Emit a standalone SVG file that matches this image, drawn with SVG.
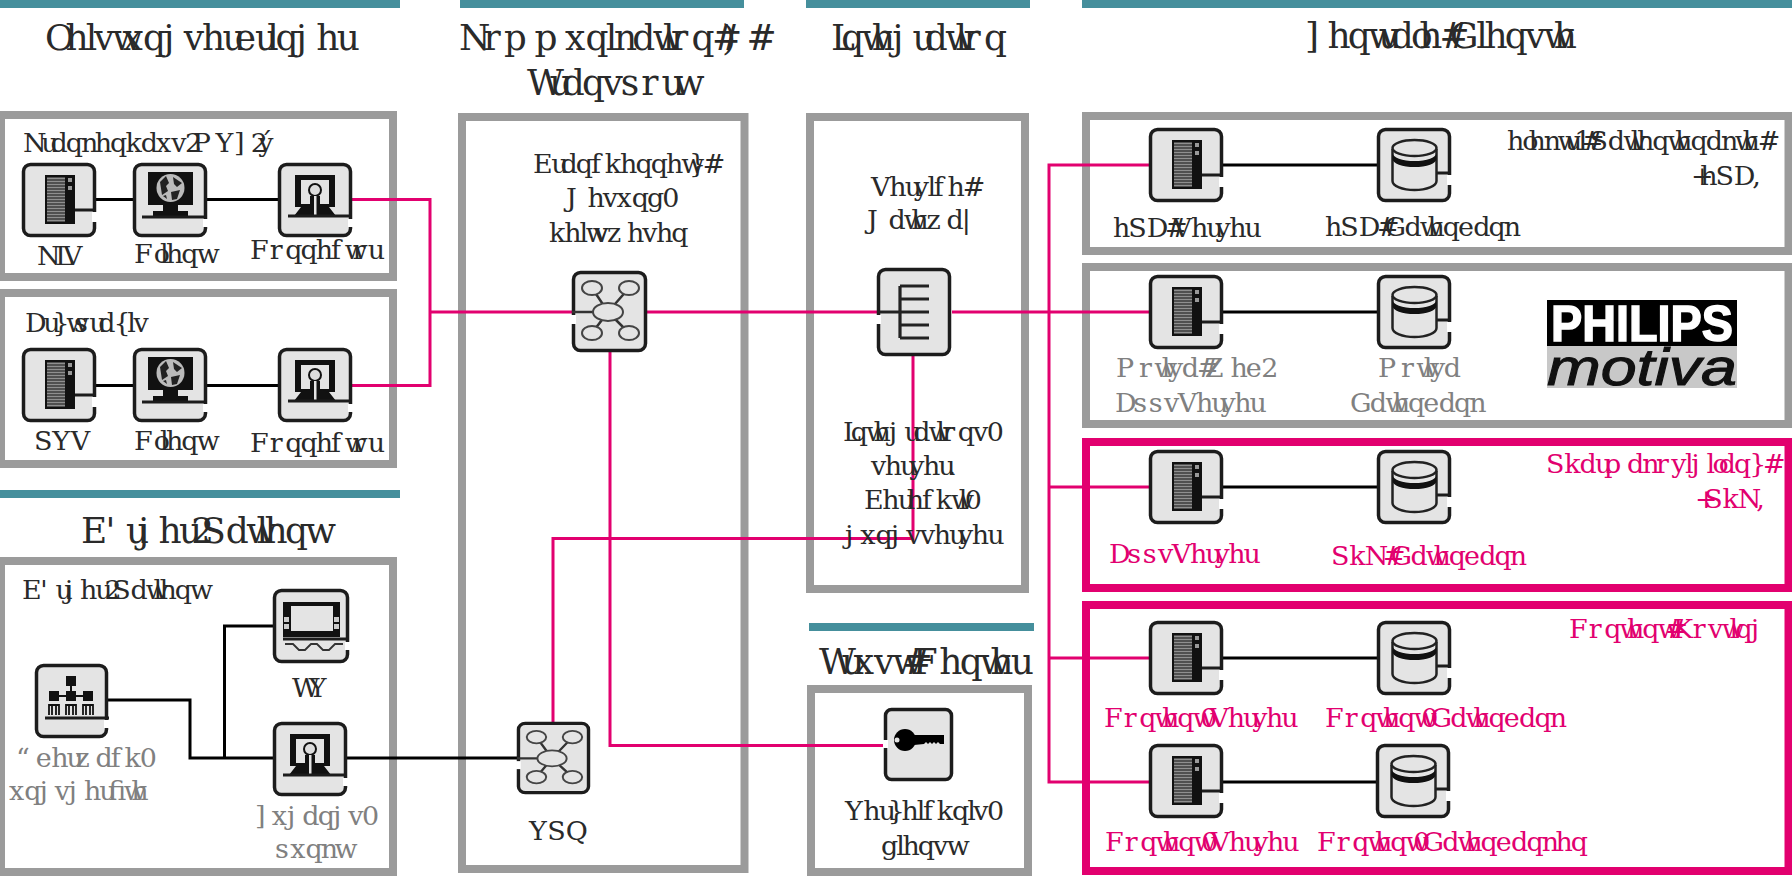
<svg xmlns="http://www.w3.org/2000/svg" xmlns:xlink="http://www.w3.org/1999/xlink" width="1792" height="877" viewBox="0 0 1792 877">
<style>
.t{font-family:"DejaVu Serif",serif;font-size:980px;fill:#2a2a2a}
.pk{fill:#e2006f}
.gy{fill:#808080}
.bar{fill:#458f9c}
.box{fill:none;stroke:#9b9b9b;stroke-width:8}
.pbox{fill:none;stroke:#e2006f;stroke-width:8}
.b{fill:none;stroke:#000;stroke-width:3}
.p{fill:none;stroke:#e2006f;stroke-width:3}
.fr{fill:#e4e4e4;stroke:#1c1c1c;stroke-width:3.500}
.gap{fill:#fff}
.ln{fill:none;stroke:#1c1c1c;stroke-width:3}
.thin{fill:#e4e4e4;stroke:#444;stroke-width:2}
</style>
<defs>
<g id="ic-server">
<rect class="fr" x="1.5" y="1.5" width="71" height="71" rx="7"/>
<path class="ln" d="M50 47H74"/><rect class="gap" x="70" y="49" width="5" height="10"/>
<rect x="23" y="12" width="30" height="49" fill="#111"/>
<path d="M25 15.500H43M25 18.500H43M25 21.500H43M25 24.500H43M25 27.500H43M25 30.500H43M25 33.500H43M25 36.500H43M25 39.500H43M25 42.500H43M25 45.500H43M25 48.500H43M25 51.500H43M25 54.500H43M25 57.500H43" stroke="#8f8f8f" stroke-width="1.800"/>
<rect x="46" y="15" width="4" height="4" fill="#999"/><rect x="46" y="23" width="4" height="4" fill="#999"/>
</g>
<g id="ic-client">
<rect class="fr" x="1.5" y="1.5" width="71" height="71" rx="7"/>
<rect class="gap" x="70" y="56" width="5" height="8"/>
<rect x="15" y="9" width="45" height="33" fill="#111"/>
<circle cx="37.500" cy="25" r="14" fill="#bbb"/>
<path d="M27 19l6-6 3 7-3 3 2 5-6 4zM40 14l9 6-5 4-3-3zM38 29l9-2-3 9-5 1zM30 33l3-1 1 4z" fill="#222"/>
<path d="M30 42h15v6h10v5H20v-5h10z" fill="#111"/>
<path class="ln" d="M9 54H74"/>
</g>
<g id="ic-conn">
<rect class="fr" x="1.5" y="1.5" width="71" height="71" rx="7"/>
<rect class="gap" x="70" y="56" width="5" height="8"/>
<rect x="17" y="12" width="40" height="32" fill="#111"/>
<rect x="23" y="17" width="28" height="24" fill="#e4e4e4"/>
<circle cx="37" cy="27" r="6" fill="#ddd" stroke="#111" stroke-width="2"/>
<path d="M32 33h10v8l9 3 7 9H16l7-9 9-3z" fill="#111"/>
<path d="M36 33h2.500v20h-2.500z" fill="#e4e4e4"/>
<path class="ln" d="M10 53H74"/>
</g>
<g id="ic-db">
<rect class="fr" x="1.5" y="1.5" width="71" height="71" rx="7"/>
<path class="ln" d="M60 45H74"/><rect class="gap" x="70" y="47" width="5" height="10"/>
<path d="M15.500 21V53a22 9 0 0 0 44 0V21" fill="#e4e4e4" stroke="#222" stroke-width="2.500"/>
<ellipse cx="37.500" cy="20" rx="22" ry="8" fill="#e4e4e4" stroke="#222" stroke-width="2.500"/>
<path d="M15.500 25a22 8 0 0 0 44 0v6a22 8 0 0 1-44 0z" fill="#111"/>
</g>
<g id="ic-net">
<rect class="fr" x="1.5" y="1.500" width="72" height="78" rx="7"/>
<rect class="gap" x="-1" y="44" width="5" height="9"/>
<path d="M0 41H24M20 17L36 41L57 17M20 62L36 41L57 62" fill="none" stroke="#333" stroke-width="2.500"/>
<ellipse class="thin" cx="36" cy="41" rx="15" ry="9"/>
<ellipse class="thin" cx="20" cy="17" rx="10" ry="7"/><ellipse class="thin" cx="57" cy="17" rx="10" ry="7"/>
<ellipse class="thin" cx="20" cy="62" rx="10" ry="7"/><ellipse class="thin" cx="57" cy="62" rx="10" ry="7"/>
</g>
<g id="ic-int">
<rect class="fr" x="1.5" y="1.500" width="71" height="85" rx="7"/>
<rect class="gap" x="-1" y="47" width="5" height="9"/>
<path d="M23 18V70M23 18H52M23 31H52M23 44H52M23 57H52M23 70H52M0 44H23" fill="none" stroke="#222" stroke-width="3.200"/>
</g>
<g id="ic-key">
<rect class="fr" x="1.5" y="1.500" width="66" height="70" rx="6"/>
<rect class="gap" x="-1" y="32" width="5" height="8"/>
<circle cx="21" cy="32" r="11" fill="#000"/><circle cx="13" cy="32" r="2.500" fill="#e4e4e4"/>
<path d="M28 27H60V36H56L54 34L52 36L50 34L48 36L46 34L44 36L42 34L40 36L30 37z" fill="#000"/>
</g>
<g id="ic-org">
<rect class="fr" x="1.5" y="1.5" width="70" height="71" rx="7"/>
<rect class="gap" x="69" y="56" width="5" height="8"/>
<rect x="31" y="12" width="10" height="10" fill="#111"/>
<path d="M36 22V31M19 32H53" stroke="#111" stroke-width="2"/>
<rect x="14" y="27" width="10" height="10" fill="#111"/><rect x="31" y="27" width="10" height="10" fill="#111"/><rect x="48" y="27" width="10" height="10" fill="#111"/>
<path d="M14 51V41h10v10M31 51V41h10v10M48 51V41h10v10M17 41V51M21 41V51M34 41V51M38 41V51M51 41V51M55 41V51" fill="none" stroke="#111" stroke-width="1.800"/>
<path class="ln" d="M10 54H74"/>
</g>
<g id="ic-tv">
<rect class="fr" x="1.5" y="1.5" width="73" height="71" rx="7"/>
<rect class="gap" x="72" y="53" width="5" height="8"/>
<rect x="10" y="13" width="57" height="35" fill="#111"/>
<rect x="18" y="17" width="42" height="25" fill="#e4e4e4"/>
<rect x="11" y="28" width="5" height="5" fill="#ccc"/><rect x="11" y="35" width="5" height="5" fill="#ccc"/><rect x="61" y="28" width="5" height="5" fill="#ccc"/><rect x="61" y="35" width="5" height="5" fill="#ccc"/>
<path class="ln" d="M10 50H75"/>
<path d="M12 55H20L26 61H32L38 55H44L50 61H56L62 55H70" fill="none" stroke="#333" stroke-width="1.800"/>
</g>
</defs>

<g id="header-bars">
<rect class="bar" x="0" y="0" width="400" height="8"/>
<rect class="bar" x="460" y="0" width="284" height="8"/>
<rect class="bar" x="806" y="0" width="224" height="8"/>
<rect class="bar" x="1082" y="0" width="710" height="8"/>
<rect class="bar" x="0" y="490" width="400" height="8"/>
<rect class="bar" x="809" y="623" width="225" height="8"/>
</g>

<g id="boxes">
<rect class="box" x="1" y="115" width="392" height="162"/>
<rect class="box" x="1" y="293" width="392" height="171"/>
<rect class="box" x="1" y="561" width="392" height="311"/>
<rect class="box" x="462" y="117" width="282.500" height="752"/>
<rect class="box" x="810" y="117" width="215" height="472"/>
<rect class="box" x="811" y="689" width="217" height="183"/>
<rect class="box" x="1086" y="116" width="702.500" height="135"/>
<rect class="box" x="1086" y="267" width="702.500" height="157"/>
<rect class="pbox" x="1086" y="442" width="702.500" height="146"/>
<rect class="pbox" x="1086" y="605" width="702.500" height="266"/>
</g>

<g id="connectors">
<path class="b" d="M96 199.500H133M206 199.500H278"/>
<path class="b" d="M96 385.500H133M206 385.500H278"/>
<path class="b" d="M107 700H190V758H273M224.500 758V626H273M347 758H517"/>
<path class="b" d="M1222 165H1377M1222 312H1377M1222 487H1377M1222 658H1377M1222 782H1376"/>
<path class="p" d="M352 199.500H430V385.500H352M430 312H572M647 312H877M952 312H1149"/>
<path class="p" d="M1149 165H1049V782H1149M1049 487H1149M1049 658H1149"/>
<path class="p" d="M610 352V745.500H884"/>
<path class="p" d="M913 356V538.500H553V722"/>
</g>

<g id="titles">
<text class="t" transform="translate(45 50) scale(.0367)" x="0 556 1112 1334 1834 2112 2668 3224 3780 4280 4836 5169 5725 6058 6280 6836 7392 7948">Ohlvwxqjvhueulqjhu</text>
<text class="t" transform="translate(459 50) scale(.0367)" x="0 667 1223 2056 2889 3445 4001 4223 4723 5279 5557 5779 6335 6891 7169 7836">Nrppxqlndwlrq#)#</text>
<text class="t" transform="translate(527 95) scale(.0367)" x="0 611 944 1500 2056 2556 3112 3668 4001">Wudqvsruw</text>
<text class="t" transform="translate(831 50) scale(.0367)" x="0 278 834 1112 1668 2224 2557 3113 3391 3613 4169">Lqwhjudwlrq</text>
<text class="t" transform="translate(1305 48) scale(.0367)" x="0 611 1167 1723 2001 2334 2890 3112 3668 3946 4668 4890 5446 6002 6502 6780">]hqwudoh#Glhqvwh</text>
<text class="t" transform="translate(81 543) scale(.0367)" x="0 667 1223 1556 2112 2668 3001 3279 3946 4502 4780 5002 5558 6114">E'ujhu2Sdwlhqw</text>
<text class="t" transform="translate(819 674) scale(.0367)" x="0 611 944 1500 2000 2278 2556 3278 3834 4390 4668 5224">Wuxvw#Fhqwhu</text>
</g>

<g id="krankenhaus">
<text class="t" transform="translate(23 152) scale(.0275)" x="0 667 1000 1556 2112 2612 3168 3724 4280 4836 5392 5892 6170 7003 7670 8281 8559">Nudqnhqkdxv2PY]2ý</text>
</g>
<g id="node-kis"><use href="#ic-server" transform="translate(22 163)"/><text class="t" transform="translate(37 265) scale(.0275)" x="0 667 945">NLV</text></g>
<g id="node-client1"><use href="#ic-client" transform="translate(133 163)"/><text class="t" transform="translate(134 263) scale(.0275)" x="0 722 944 1166 1722 2278">Folhqw</text></g>
<g id="node-connector1"><use href="#ic-conn" transform="translate(278 163)"/><text class="t" transform="translate(250 259) scale(.0275)" x="0 722 1278 1834 2390 2946 3446 3724 4280">Frqqhfwru</text></g>

<g id="arztpraxis">
<text class="t" transform="translate(25 332) scale(.0275)" x="0 667 1000 1500 1778 2334 2667 3223 3723 3945">Du}wsud{lv</text>
</g>
<g id="node-pvs"><use href="#ic-server" transform="translate(22 348)"/><text class="t" transform="translate(34 450) scale(.0275)" x="0 667 1334">SYV</text></g>
<g id="node-client2"><use href="#ic-client" transform="translate(133 348)"/><text class="t" transform="translate(134 450) scale(.0275)" x="0 722 944 1166 1722 2278">Folhqw</text></g>
<g id="node-connector2"><use href="#ic-conn" transform="translate(278 348)"/><text class="t" transform="translate(250 452) scale(.0275)" x="0 722 1278 1834 2390 2946 3446 3724 4280">Frqqhfwru</text></g>

<g id="buerger">
<text class="t" transform="translate(22 599) scale(.0275)" x="0 667 1223 1556 2112 2668 3001 3279 3946 4502 4780 5002 5558 6114">E'ujhu2Sdwlhqw</text>
</g>
<g id="node-ueberwachung"><use href="#ic-org" transform="translate(35 664)"/>
<text class="t gy" transform="translate(16 767) scale(.0275)" x="0 722 1278 1834 2167 2889 3445 3945 4501">“ehuzdfk0</text>
<text class="t gy" transform="translate(9 800) scale(.0275)" x="0 556 1112 1668 2168 2724 3280 3613 4169 4447">xqjvjhuﬁwh</text></g>
<g id="node-tv"><use href="#ic-tv" transform="translate(273 589)"/><text class="t" transform="translate(292 697) scale(.0275)" x="0 611">WY</text></g>
<g id="node-zugang"><use href="#ic-conn" transform="translate(273 722)"/>
<text class="t gy" transform="translate(255 825) scale(.0275)" x="0 611 1167 1723 2279 2835 3391 3891">]xjdqjv0</text>
<text class="t gy" transform="translate(275 858) scale(.0275)" x="0 556 1112 1668 2168">sxqnw</text></g>

<g id="node-branchennetz"><use href="#ic-net" transform="translate(572 271)"/>
<text class="t" transform="translate(533 173) scale(.0275)" x="0 667 1000 1556 2112 2612 3168 3724 4280 4836 5392 5670 6170">Eudqfkhqqhw}#</text>
<text class="t" transform="translate(566 207) scale(.0275)" x="0 778 1334 1834 2390 2946 3502">Jhvxqg0</text>
<text class="t" transform="translate(549 242) scale(.0275)" x="0 556 1112 1334 1612 2112 2834 3390 3890 4446">khlwvzhvhq</text></g>
<g id="node-vpn"><use href="#ic-net" transform="translate(517 722) scale(.973 .889)"/><text class="t" transform="translate(529 840) scale(.0275)" x="0 667 1334">YSQ</text></g>

<g id="node-gateway"><use href="#ic-int" transform="translate(877 268)"/>
<text class="t" transform="translate(871 196) scale(.0275)" x="0 667 1223 1556 2056 2278 2778 3334">Vhuylfh#</text>
<text class="t" transform="translate(867 229) scale(.0275)" x="0 778 1334 1612 2168 2890 3446">Jdwhzd|</text></g>
<g id="integration-server">
<text class="t" transform="translate(843 441) scale(.0275)" x="0 278 834 1112 1668 2224 2557 3113 3391 3613 4169 4725 5225">Lqwhjudwlrqv0</text>
<text class="t" transform="translate(871 475) scale(.0275)" x="0 500 1056 1389 1889 2445 2778">vhuyhu.</text>
<text class="t" transform="translate(864 509) scale(.0275)" x="0 667 1223 1556 2112 2612 3168 3446 3668">Ehuhfkwl0</text>
<text class="t" transform="translate(845 544) scale(.0275)" x="0 556 1112 1668 2224 2724 3224 3780 4113 4613 5169">jxqjvvhuyhu</text>
</g>
<g id="node-verzeichnis"><use href="#ic-key" transform="translate(884 708)"/>
<text class="t" transform="translate(845 820) scale(.0275)" x="0 667 1223 1556 2056 2612 2834 3334 3890 4446 4668 5168">Yhu}hlfkqlv0</text>
<text class="t" transform="translate(881 855) scale(.0275)" x="0 556 778 1334 1890 2390">glhqvw</text></g>

<g id="epa">
<text class="t" transform="translate(1507 150) scale(.0275)" x="0 556 778 1334 1834 2112 2445 2723 3001 3668 4224 4502 4724 5280 5836 6114 6670 7226 7782 8282 8560 9116">hohnwu1#Sdwlhqwhqdnwh#</text>
<text class="t" transform="translate(1691 185) scale(.0275)" x="0 333 889 1556 2223">+hSD,</text>
</g>
<g id="node-epa-server"><use href="#ic-server" transform="translate(1149 128)"/><text class="t" transform="translate(1113 237) scale(.0275)" x="0 556 1223 1890 2168 2835 3391 3724 4224 4780">hSD#Vhuyhu</text></g>
<g id="node-epa-db"><use href="#ic-db" transform="translate(1377 128)"/><text class="t" transform="translate(1325 236) scale(.0275)" x="0 556 1223 1890 2168 2890 3446 3724 4280 4836 5392 5948 6504">hSD#Gdwhqedqn</text></g>

<g id="node-motiva-server"><use href="#ic-server" transform="translate(1149 275)"/>
<text class="t gy" transform="translate(1116 377) scale(.0275)" x="0 833 1389 1667 1889 2389 2945 3223 4167 4723 5279">Prwlyd#Zhe2</text>
<text class="t gy" transform="translate(1115 412) scale(.0275)" x="0 667 1223 1779 2279 2946 3502 3835 4335 4891">DssvVhuyhu</text></g>
<g id="node-motiva-db"><use href="#ic-db" transform="translate(1377 275)"/>
<text class="t gy" transform="translate(1378 377) scale(.0275)" x="0 833 1389 1667 1889 2389">Prwlyd</text>
<text class="t gy" transform="translate(1350 412) scale(.0275)" x="0 722 1278 1556 2112 2668 3224 3780 4336">Gdwhqedqn</text></g>
<g id="philips-logo">
<rect x="1547" y="300" width="190" height="46" fill="#000"/>
<rect x="1547" y="346" width="190" height="42" fill="#c8c8c8"/>
<text x="1551" y="341" textLength="182" lengthAdjust="spacingAndGlyphs" font-family="'Liberation Sans',sans-serif" font-weight="700" font-size="50" fill="#fff" stroke="#fff" stroke-width="1.500">PHILIPS</text>
<text x="1547" y="385" textLength="190" lengthAdjust="spacingAndGlyphs" font-family="'Liberation Sans',sans-serif" font-style="italic" font-size="52" fill="#111" stroke="#111" stroke-width="1">motiva</text>
</g>

<g id="phk">
<text class="t pk" transform="translate(1546 473) scale(.0275)" x="0 667 1223 1779 2112 2945 3501 4001 4557 5057 5279 5835 6057 6279 6835 7391 7891">Skdupdnryljlodq}#</text>
<text class="t pk" transform="translate(1695 508) scale(.0275)" x="0 333 1000 1556 2223">+SkN,</text>
</g>
<g id="node-phk-server"><use href="#ic-server" transform="translate(1149 450)"/><text class="t pk" transform="translate(1109 563) scale(.0275)" x="0 667 1223 1779 2279 2946 3502 3835 4335 4891">DssvVhuyhu</text></g>
<g id="node-phk-db"><use href="#ic-db" transform="translate(1377 450)"/><text class="t pk" transform="translate(1331 565) scale(.0275)" x="0 667 1223 1890 2168 2890 3446 3724 4280 4836 5392 5948 6504">SkN#Gdwhqedqn</text></g>

<g id="content">
<text class="t pk" transform="translate(1569 638) scale(.0275)" x="0 722 1278 1834 2112 2668 3224 3502 3780 4502 5058 5558 5836 6058 6614">Frqwhqw#Krvwlqj</text>
</g>
<g id="node-content-server1"><use href="#ic-server" transform="translate(1149 621)"/><text class="t pk" transform="translate(1104 727) scale(.0275)" x="0 722 1278 1834 2112 2668 3224 3502 3835 4502 5058 5391 5891 6447">Frqwhqw0Vhuyhu</text></g>
<g id="node-content-db1"><use href="#ic-db" transform="translate(1377 621)"/><text class="t pk" transform="translate(1325 727) scale(.0275)" x="0 722 1278 1834 2112 2668 3224 3502 3835 4557 5113 5391 5947 6503 7059 7615 8171">Frqwhqw0Gdwhqedqn</text></g>
<g id="node-content-server2"><use href="#ic-server" transform="translate(1149 744)"/><text class="t pk" transform="translate(1105 851) scale(.0275)" x="0 722 1278 1834 2112 2668 3224 3502 3835 4502 5058 5391 5891 6447">Frqwhqw0Vhuyhu</text></g>
<g id="node-content-db2"><use href="#ic-db" transform="translate(1376 744)"/><text class="t pk" transform="translate(1317 851) scale(.0275)" x="0 722 1278 1834 2112 2668 3224 3502 3835 4557 5113 5391 5947 6503 7059 7615 8171 8671 9227">Frqwhqw0Gdwhqedqnhq</text></g>
</svg>
